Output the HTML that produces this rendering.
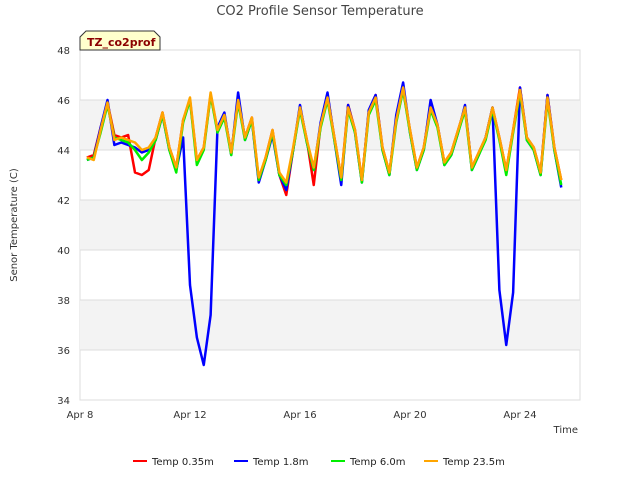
<!DOCTYPE html>
<html><head><meta charset="utf-8"><style>
body{margin:0;background:#fff;font-family:"Liberation Sans","DejaVu Sans",sans-serif}
svg text{font-family:"DejaVu Sans","Liberation Sans",sans-serif}
</style></head><body>
<svg id="chart" width="640" height="480">
<text x="320" y="15" text-anchor="middle" font-size="13" fill="#444">CO2 Profile Sensor Temperature</text>
<rect x="80" y="50" width="500" height="350" fill="#fff" stroke="#ddd"/>
<g id="bands"></g><g id="yticks"></g><g id="xticks"></g><g id="series"></g>
<text transform="translate(17,225) rotate(-90)" text-anchor="middle" font-size="10" fill="#333">Senor Temperature (C)</text>
<text x="578" y="433" text-anchor="end" font-size="10" fill="#333">Time</text>
<g>
<path d="M80,50 L80,37 L86,31 L154,31 L160,37 L160,50 Z" fill="#ffffcc" stroke="#333"/>
<text x="87" y="46" font-size="11" font-weight="bold" fill="#8b0000">TZ_co2prof</text></g>
<g id="legend"></g>
</svg>
<script>
const days=[];for(let d=8.25;d<=25.51;d+=0.25)days.push(d);
const temp23=[43.7,43.6,44.8,45.9,44.4,44.5,44.4,44.3,44.0,44.1,44.5,45.5,44.1,43.3,45.2,46.1,43.6,44.1,46.3,44.8,45.4,43.9,46.0,44.5,45.3,42.9,43.7,44.8,43.1,42.7,44.1,45.7,44.4,43.3,45.0,46.1,44.5,42.9,45.7,44.8,42.8,45.5,46.1,44.1,43.1,45.2,46.5,44.8,43.3,44.1,45.7,45.0,43.5,43.9,44.8,45.7,43.3,43.9,44.5,45.7,44.5,43.2,44.8,46.4,44.5,44.1,43.1,46.1,44.1,42.8];
const temp60=[43.6,43.7,44.7,45.8,44.5,44.4,44.3,44.0,43.6,43.9,44.4,45.4,44.0,43.1,45.1,46.0,43.4,44.0,46.2,44.7,45.3,43.8,45.9,44.4,45.2,42.8,43.6,44.7,43.0,42.6,44.0,45.6,44.3,43.2,44.9,46.0,44.4,42.8,45.6,44.7,42.7,45.4,46.0,44.0,43.0,45.1,46.4,44.7,43.2,44.0,45.6,44.9,43.4,43.8,44.7,45.6,43.2,43.8,44.4,45.6,44.4,43.0,44.7,46.3,44.4,44.0,43.0,46.0,44.0,42.6];
const temp18=[43.6,43.7,44.9,46.0,44.2,44.3,44.2,44.1,43.9,44.0,44.4,45.4,44.0,43.2,44.5,38.6,36.5,35.4,37.4,44.9,45.5,43.8,46.3,44.4,45.2,42.7,43.6,44.6,43.0,42.4,44.0,45.8,44.3,43.2,45.1,46.3,44.4,42.6,45.8,44.7,42.7,45.6,46.2,44.0,43.0,45.4,46.7,44.7,43.2,44.0,46.0,45.0,43.4,43.8,44.7,45.8,43.2,43.8,44.5,45.7,38.4,36.2,38.3,46.5,44.4,44.0,43.0,46.2,44.0,42.5];
const temp035=[43.7,43.8,44.9,45.9,44.6,44.5,44.6,43.1,43.0,43.2,44.5,45.5,44.1,43.3,45.2,46.0,43.6,44.1,46.2,44.8,45.4,43.9,46.0,44.5,45.3,42.8,43.7,44.8,43.0,42.2,44.0,45.7,44.4,42.6,45.0,46.2,44.5,42.9,45.8,44.8,42.8,45.5,46.2,44.1,43.1,45.2,46.4,44.8,43.3,44.1,45.8,45.0,43.5,43.9,44.8,45.7,43.3,43.9,44.5,45.7,44.5,43.2,44.8,46.5,44.5,44.1,43.1,46.2,44.1,42.8];
const yTicks=[34,36,38,40,42,44,46,48];
const xTickDays=[8,12,16,20,24];
const xTickLabels=["Apr 8","Apr 12","Apr 16","Apr 20","Apr 24"];
const NS="http://www.w3.org/2000/svg";
const X=d=>80+(d-8)*27.5, Y=v=>400-(v-34)*25;
function mk(t,a,p){const e=document.createElementNS(NS,t);for(const k in a)e.setAttribute(k,a[k]);document.getElementById(p).appendChild(e);return e;}
[[46,44],[42,40],[38,36]].forEach(b=>{const r=mk('rect',{x:80,y:Y(b[0]),width:500,height:Y(b[1])-Y(b[0]),fill:'#f3f3f3'},'bands');

});
yTicks.forEach(v=>{const l=mk('line',{x1:80,x2:580,y1:Y(v),y2:Y(v),stroke:'#ddd'},'yticks');


const t=mk('text',{x:70,y:Y(v)+4,'text-anchor':'end','font-size':10,fill:'#333'},'yticks');t.textContent=v;

});
xTickDays.forEach((d,i)=>{const t=mk('text',{x:X(d),y:418,'text-anchor':'middle','font-size':10,fill:'#333'},'xticks');t.textContent=xTickLabels[i];

});
const series=[[temp035,'#ff0000','Temp 0.35m'],[temp18,'#0000ff','Temp 1.8m'],[temp60,'#00ee00','Temp 6.0m'],[temp23,'#ffa500','Temp 23.5m']];
series.forEach(s=>{const p=mk('polyline',{points:s[0].map((v,i)=>X(days[i])+','+Y(v)).join(' '),fill:'none',stroke:s[1],'stroke-width':2.5,'stroke-linejoin':'round'},'series');

});
const lx=[133,234,331,424];
series.forEach((s,i)=>{const l=mk('line',{x1:lx[i],x2:lx[i]+14,y1:461,y2:461,stroke:s[1],'stroke-width':2},'legend');


const t=mk('text',{x:lx[i]+19,y:465,'font-size':10,fill:'#222'},'legend');t.textContent=s[2];

});
</script>
</body></html>
